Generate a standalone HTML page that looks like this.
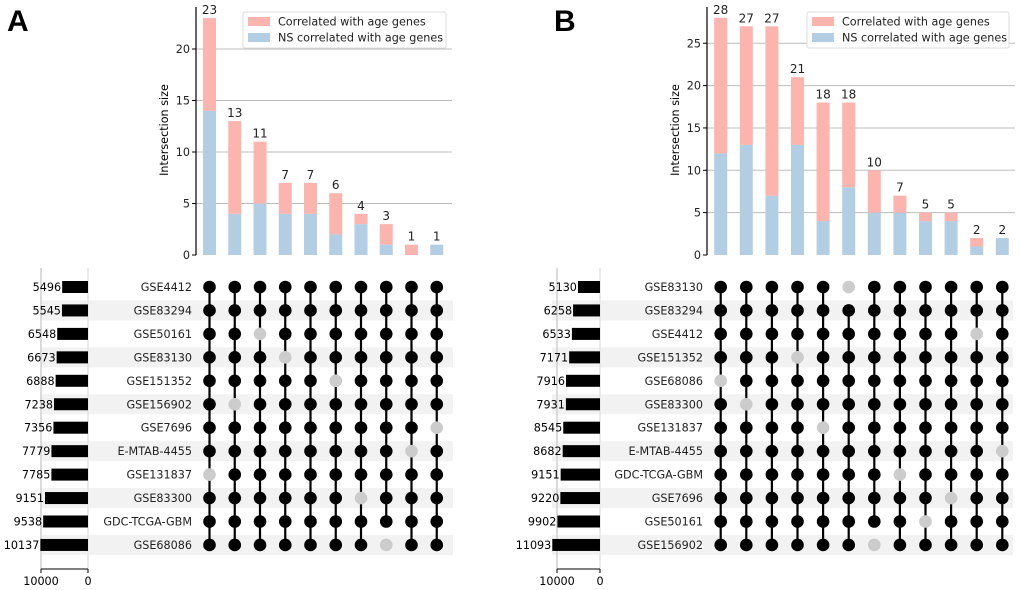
<!DOCTYPE html>
<html><head><meta charset="utf-8"><style>
body{margin:0;background:#fff}
svg{display:block;font-family:"DejaVu Sans","Liberation Sans",sans-serif}
</style></head><body>
<svg id="chart" width="1020" height="590" viewBox="0 0 1020 590"></svg>
<script>
// Panel A data
const aSets = ["GSE4412","GSE83294","GSE50161","GSE83130","GSE151352","GSE156902","GSE7696","E-MTAB-4455","GSE131837","GSE83300","GDC-TCGA-GBM","GSE68086"];
const aSetSizes = [5496,5545,6548,6673,6888,7238,7356,7779,7785,9151,9538,10137];
const aTotals = [23,13,11,7,7,6,4,3,1,1];
const aNS = [14,4,5,4,4,2,3,1,0,1];
const aMissing = [8,5,2,3,-1,4,9,11,7,6];
const aYTicks = [0,5,10,15,20];
// Panel B data
const bSets = ["GSE83130","GSE83294","GSE4412","GSE151352","GSE68086","GSE83300","GSE131837","E-MTAB-4455","GDC-TCGA-GBM","GSE7696","GSE50161","GSE156902"];
const bSetSizes = [5130,6258,6533,7171,7916,7931,8545,8682,9151,9220,9902,11093];
const bTotals = [28,27,27,21,18,18,10,7,5,5,2,2];
const bNS = [12,13,7,13,4,8,5,5,4,4,1,2];
const bMissing = [4,5,-1,3,6,0,11,8,10,9,2,7];
const bYTicks = [0,5,10,15,20,25];
const sizeTicks = [10000,0];

const FS = 11.2;
const svg = document.getElementById('chart');
const NS = 'http://www.w3.org/2000/svg';
function mk(tag, attrs, parent, text){
  const e = document.createElementNS(NS, tag);
  for (const k in attrs) e.setAttribute(k, attrs[k]);
  if (text !== undefined) e.textContent = text;
  (parent || svg).appendChild(e);
  return e;
}

function panel(p, sets, sizes, totals, ns, missing, yticks){
  const g = mk('g', {});
  
  
  const rowY = i => 287 + i * 23.45;
  const colX = j => p.x0 + j * p.dx;
  const yS = v => 255 - v * p.ky;
  const sX = v => p.s0 - v * p.ks;
  const L = mk('text', {x: p.lx, y: 31, 'font-size': 30, 'font-weight': 'bold', 'font-family': 'Liberation Sans, sans-serif'}, g, p.id);
  
  
  sets.forEach((s, i) => {
    if (i % 2 === 1) {
      const r = mk('rect', {x: p.stripeX, y: rowY(i) - 10, width: p.stripeR - p.stripeX, height: 20, fill: '#f2f2f2'}, g);
      
      
    }
  });
  sizeTicks.forEach(t => {
    mk('line', {x1: sX(t), x2: sX(t), y1: 268, y2: 569, stroke: t === 0 ? '#e4e4e4' : '#cfcfcf', 'stroke-width': 1.5}, g);
  });
  mk('line', {x1: sX(10000), x2: sX(0), y1: 569, y2: 569, stroke: '#000', 'stroke-width': 1}, g);
  sizeTicks.forEach(t => {
    mk('line', {x1: sX(t), x2: sX(t), y1: 569, y2: 573, stroke: '#000', 'stroke-width': 1}, g);
    const tl = mk('text', {x: sX(t), y: 585, 'font-size': FS, 'text-anchor': 'middle'}, g, String(t));
    
    
  });
  sets.forEach((s, i) => {
    const b = mk('rect', {x: sX(sizes[i]), y: rowY(i) - 6, width: sX(0) - sX(sizes[i]), height: 12, fill: '#000'}, g);
    
    
    const v = mk('text', {x: sX(sizes[i]) - 1, y: rowY(i) + 4, 'font-size': FS, 'text-anchor': 'end'}, g, String(sizes[i]));
    
    
    const n = mk('text', {x: p.nameX, y: rowY(i) + 4, 'font-size': FS, 'text-anchor': 'end', fill: '#222'}, g, s);
    
    
  });
  yticks.forEach(t => {
    if (t > 0) mk('line', {x1: p.ax, x2: p.gridR, y1: yS(t), y2: yS(t), stroke: '#bdbdbd', 'stroke-width': 1}, g);
    mk('line', {x1: p.ax - 4, x2: p.ax, y1: yS(t), y2: yS(t), stroke: '#000'}, g);
    const tl = mk('text', {x: p.ax - 6, y: yS(t) + 4, 'font-size': FS, 'text-anchor': 'end', fill: '#222'}, g, String(t));
    
    
  });
  mk('line', {x1: p.ax, x2: p.ax, y1: 7, y2: 255, stroke: '#000', 'stroke-width': 1.2}, g);
  const yl = mk('text', {x: 0, y: 0, 'font-size': FS, 'text-anchor': 'middle', transform: `translate(${p.ylx},130) rotate(-90)`}, g, 'Intersection size');
  
  
  totals.forEach((t, j) => {
    const cx = colX(j);
    const bw = 13;
    const r1 = mk('rect', {x: cx - bw / 2, y: yS(ns[j]), width: bw, height: yS(0) - yS(ns[j]), fill: '#b3cde3'}, g);
    
    
    const r2 = mk('rect', {x: cx - bw / 2, y: yS(t), width: bw, height: yS(ns[j]) - yS(t), fill: '#fbb4ae'}, g);
    
    
    const lb = mk('text', {x: cx, y: yS(t) - 4, 'font-size': 12, 'text-anchor': 'middle', fill: '#222'}, g, String(t));
    
    
  });
  const lg = mk('g', {}, g);
  
  
  mk('rect', {x: p.legX, y: 12, width: p.legW, height: 36, fill: '#fff', 'fill-opacity': 0.85, stroke: '#ddd', rx: 2}, lg);
  mk('rect', {x: p.legX + 5, y: 17, width: 22, height: 9, fill: '#fbb4ae'}, lg);
  mk('rect', {x: p.legX + 5, y: 33, width: 22, height: 9, fill: '#b3cde3'}, lg);
  const t1 = mk('text', {x: p.legX + 35, y: 25.5, 'font-size': FS, fill: '#222'}, lg, 'Correlated with age genes');
  
  
  const t2 = mk('text', {x: p.legX + 35, y: 41.5, 'font-size': FS, fill: '#222'}, lg, 'NS correlated with age genes');
  
  
  totals.forEach((t, j) => {
    const cx = colX(j);
    const active = sets.map((s, i) => i !== missing[j]);
    const idx = active.map((a, i) => a ? i : -1).filter(i => i >= 0);
    const ln = mk('line', {x1: cx, x2: cx, y1: rowY(idx[0]), y2: rowY(idx[idx.length - 1]), stroke: '#000', 'stroke-width': 2.2}, g);
    
    
    sets.forEach((s, i) => {
      const c = mk('circle', {cx: cx, cy: rowY(i), r: 6.3, fill: active[i] ? '#000' : '#cccccc'}, g);
      
      
    });
  });
}

panel({id:'A', lx:7, x0:209.5, dx:25.25, ky:10.3, s0:88, ks:0.0047, stripeX:41, stripeR:453, nameX:192, ax:196, gridR:452, ylx:168, legX:243, legW:203}, aSets, aSetSizes, aTotals, aNS, aMissing, aYTicks);
panel({id:'B', lx:554, x0:720.7, dx:25.6, ky:8.47, s0:600, ks:0.0043, stripeX:552, stripeR:1013, nameX:703, ax:707, gridR:1015, ylx:679, legX:807, legW:202}, bSets, bSetSizes, bTotals, bNS, bMissing, bYTicks);
</script>
</body></html>
